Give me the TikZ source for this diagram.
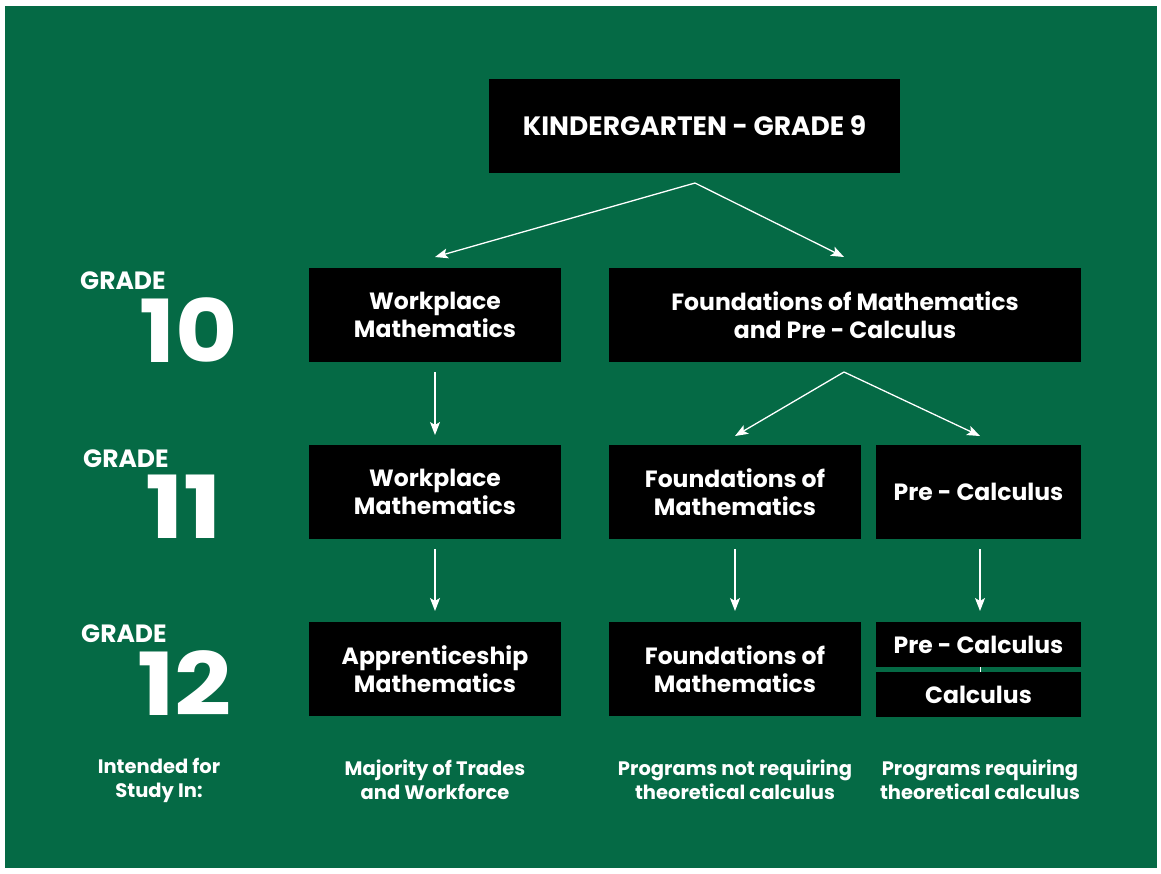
\documentclass[tikz,border=0pt]{standalone}
\usepackage{fontspec}
\setmainfont{Poppins}
\usetikzlibrary{arrows.meta}
\definecolor{bggreen}{HTML}{056A45}
\tikzset{
  box/.style={fill=black, text=white, inner sep=0pt, align=center,
    font=\bfseries\fontsize{23.5}{28}\selectfont},
  wide/.style={minimum width=252pt, minimum height=94pt},
  conn/.style={draw=white, line width=1.3pt, -{Stealth[length=13pt,width=10pt,inset=3pt]}},
  gradeword/.style={text=white, inner sep=0pt, anchor=west, font=\bfseries\fontsize{25}{25}\selectfont},
  gradenum/.style={text=white, inner sep=0pt, anchor=west, font=\bfseries\fontsize{87}{87}\selectfont},
  note/.style={text=white, inner sep=0pt, align=center, font=\bfseries\fontsize{19.5}{24}\selectfont},
}
\begin{document}
\begin{tikzpicture}[x=1pt, y=-1pt]
\useasboundingbox (0,0) rectangle (1161,873);
\fill[white] (0,0) rectangle (1161,873);
\fill[bggreen] (5,6) rectangle (1157,868);

% boxes
\node[box, minimum width=411pt, minimum height=94pt, font=\bfseries\fontsize{26.5}{28}\selectfont] (k9) at (694.5,126) {KINDERGARTEN - GRADE 9};
\node[box, wide] (w10) at (435,315) {Workplace\\Mathematics};
\node[box, minimum width=472pt, minimum height=94pt] (f10) at (845,315) {Foundations of Mathematics\\and Pre - Calculus};
\node[box, wide] (w11) at (435,492) {Workplace\\Mathematics};
\node[box, wide] (f11) at (735,492) {Foundations of\\Mathematics};
\node[box, minimum width=205pt, minimum height=94pt] (p11) at (978.5,492) {Pre - Calculus};
\node[box, wide] (a12) at (435,669) {Apprenticeship\\Mathematics};
\node[box, wide] (f12) at (735,669) {Foundations of\\Mathematics};
\node[box, minimum width=205pt, minimum height=45pt] (p12) at (978.5,644.5) {Pre - Calculus};
\node[box, minimum width=205pt, minimum height=45pt] (c12) at (978.5,694.5) {Calculus};

% connector points
\coordinate (k9o) at (695,183);
\coordinate (w10i) at (435,257);
\coordinate (f10i) at (844,257);
\coordinate (f10o) at (844,372);
\coordinate (f11i) at (735,436);
\coordinate (p11i) at (980,436);
\coordinate (w10o) at (435,372);
\coordinate (w11i) at (435,435);
\coordinate (w11o) at (435,549);
\coordinate (a12i) at (435,611);
\coordinate (f11o) at (735,549);
\coordinate (f12i) at (735,611);
\coordinate (p11o) at (980,549);
\coordinate (p12i) at (980,611);

\draw[conn] (k9o) -- (w10i);
\draw[conn] (k9o) -- (f10i);
\draw[conn] (f10o) -- (f11i);
\draw[conn] (f10o) -- (p11i);
\draw[conn] (w10o) -- (w11i);
\draw[conn] (w11o) -- (a12i);
\draw[conn] (f11o) -- (f12i);
\draw[conn] (p11o) -- (p12i);
\draw[white, line width=1pt] (p12.south -| p12i) -- (c12.north -| p12i);

% grade labels
\node[gradeword, anchor=base west] (g10w) at (80,289) {GRADE};
\node[gradenum, anchor=base west] (g10n) at (139,362) {\scalebox{1.1}[1]{10}};
\node[gradeword, anchor=base west] (g11w) at (83,467) {GRADE};
\node[gradenum, anchor=base west] (g11n) at (145,538) {\scalebox{1.18}[1]{11}};
\node[gradeword, anchor=base west] (g12w) at (81,642) {GRADE};
\node[gradenum, anchor=base west] (g12n) at (137,715) {\scalebox{1.15}[1]{12}};

% bottom notes
\node[note] (n1) at (159,780) {Intended for\\Study In:};
\node[note] (n2) at (435,780) {Majority of Trades\\and Workforce};
\node[note] (n3) at (735,780) {Programs not requiring\\theoretical calculus};
\node[note] (n4) at (980,780) {Programs requiring\\theoretical calculus};
\end{tikzpicture}
\end{document}
